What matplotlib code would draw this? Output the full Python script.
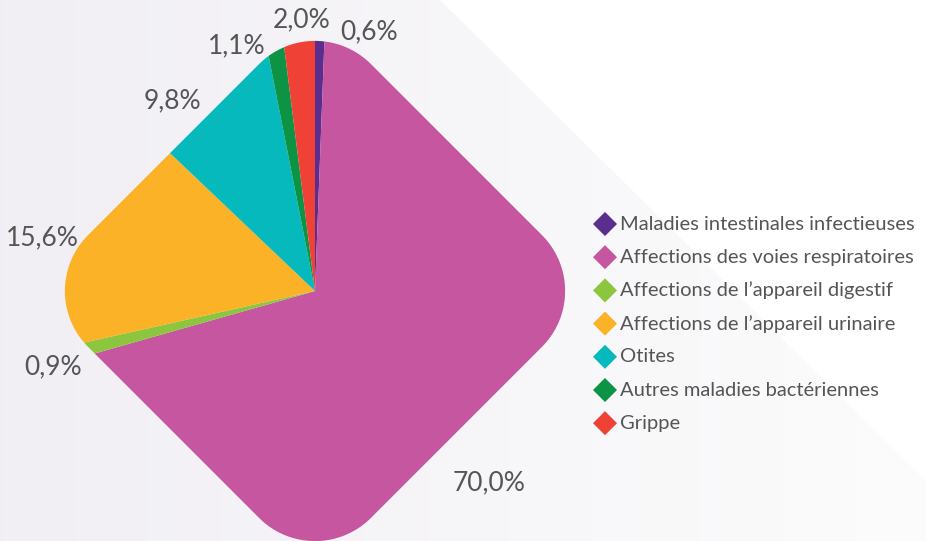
import numpy as np
import matplotlib
matplotlib.use("Agg")
import matplotlib.pyplot as plt
from matplotlib.patches import PathPatch, Polygon
from matplotlib.path import Path
from matplotlib.transforms import Affine2D

categories = [
    "Maladies intestinales infectieuses",
    "Affections des voies respiratoires",
    "Affections de l\u2019appareil digestif",
    "Affections de l\u2019appareil urinaire",
    "Otites",
    "Autres maladies bactériennes",
    "Grippe",
]
values = [0.6, 70.0, 0.9, 15.6, 9.8, 1.1, 2.0]
value_labels = ["0,6%", "70,0%", "0,9%", "15,6%", "9,8%", "1,1%", "2,0%"]
colors = ["#5b2d8e", "#c5569f", "#8cc63f", "#fbb226", "#05b9bd", "#0c9444", "#ef4136"]

# layout (pixel coordinates of the image, y downwards)
W, H = 926, 541
CX, CY = 315, 291
label_pos = [(369, 32), (489, 483), (53, 367), (42, 238), (172, 101), (237, 46), (302, 20)]
TEXT = "#555557"
FONT = "Lato"

fig = plt.figure(figsize=(W / 100, H / 100), dpi=100)
ax = fig.add_axes([0, 0, 1, 1])
ax.set_axis_off()

# background gradient
grad = np.linspace(0, 1, 256)[None, :]
c0 = np.array([0.945, 0.937, 0.957])
c1 = np.array([0.988, 0.988, 0.988])
img = c0[None, None, :] * (1 - grad[..., None]) + c1[None, None, :] * grad[..., None]
ax.imshow(img, extent=[0, W, 0, H], aspect="auto", zorder=0)
ax.add_patch(Polygon([(440, H), (W + 5, H), (W + 5, H - 486)], closed=True,
                     facecolor="white", edgecolor="none", zorder=1))

# pie
wedges, _ = ax.pie(values, colors=colors, startangle=90, counterclock=False,
                   center=(CX, H - CY), radius=320,
                   wedgeprops=dict(linewidth=0, edgecolor="none"), frame=False)

# rounded square (circular corners), rotated 45 degrees -> clip shape
s, r = 200, 79
pts = []
for cx_, cy_, a0 in [(s - r, s - r, 0), (-(s - r), s - r, 90),
                     (-(s - r), -(s - r), 180), (s - r, -(s - r), 270)]:
    t = np.radians(np.linspace(a0, a0 + 90, 40))
    pts += list(zip(cx_ + r * np.cos(t), cy_ + r * np.sin(t)))
pts.append(pts[0])
codes = [Path.MOVETO] + [Path.LINETO] * (len(pts) - 2) + [Path.CLOSEPOLY]
clip = PathPatch(Path(pts, codes), facecolor="none", edgecolor="none")
clip.set_transform(Affine2D().rotate_deg(45).translate(CX, H - CY) + ax.transData)
for w in wedges:
    w.set_zorder(2)
    w.set_clip_on(True)
    w.set_clip_path(clip)

for lab, (x, y) in zip(value_labels, label_pos):
    ax.text(x, H - y, lab, ha="center", va="center", fontsize=19,
            color=TEXT, family=FONT, zorder=5)

# legend
ly0, dy = 224, 33.2
for i, (cat, col) in enumerate(zip(categories, colors)):
    y = H - (ly0 + i * dy)
    ax.scatter([605], [y], marker="D", s=150, color=col, edgecolors="none", zorder=5)
    ax.text(620, y, cat, ha="left", va="center", fontsize=14.5, color=TEXT,
            family=FONT, zorder=5)

ax.set_xlim(0, W)
ax.set_ylim(0, H)
ax.set_aspect("auto")
fig.savefig("out.png", dpi=100)
